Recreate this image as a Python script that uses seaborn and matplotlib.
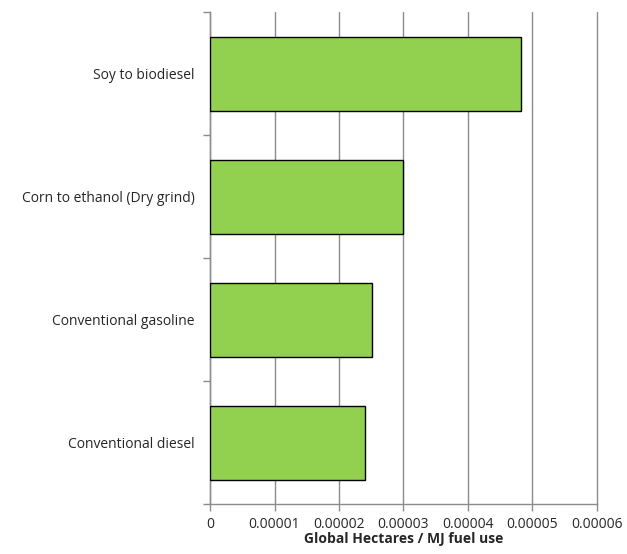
import numpy as np
import pandas as pd
import matplotlib
matplotlib.use('Agg')
import matplotlib.pyplot as plt
from matplotlib.ticker import FixedLocator, FuncFormatter
import seaborn as sns

# Land use per MJ of fuel
categories = ['Soy to biodiesel', 'Corn to ethanol (Dry grind)',
              'Conventional gasoline', 'Conventional diesel']
hectares = [0.0000483, 0.0000300, 0.0000251, 0.0000240]
x_ticks = [0, 0.00001, 0.00002, 0.00003, 0.00004, 0.00005, 0.00006]

df = pd.DataFrame({'fuel': categories, 'gha': hectares})

sns.set_style('white')
plt.rcParams['font.family'] = ['Open Sans', 'DejaVu Sans']

fig = plt.figure(figsize=(6.27, 5.54), dpi=100)
ax = fig.add_axes([0.335, 0.090, 0.617, 0.888])

sns.barplot(data=df, x='gha', y='fuel', color='#92D050', saturation=1,
            edgecolor='black', linewidth=1, width=0.6, ax=ax, zorder=3)

ax.set_xlim(0, 0.00006)
ax.set_ylim(3.5, -0.5)
ax.xaxis.set_major_locator(FixedLocator(x_ticks))
ax.xaxis.set_major_formatter(FuncFormatter(lambda v, p: '0' if v == 0 else f'{v:.5f}'))
ax.grid(axis='x', color='#8c8c8c', linewidth=1, zorder=0)
ax.grid(axis='y', visible=False)
for gl in ax.get_xgridlines():
    gl.set_clip_on(False)

# ticks on category boundaries
ax.yaxis.set_minor_locator(FixedLocator(np.arange(-0.5, 4, 1)))
ax.tick_params(axis='y', which='major', length=0, pad=11, labelsize=10)
ax.tick_params(axis='y', which='minor', length=5, color='#8c8c8c', width=1, left=True)
ax.tick_params(axis='x', which='major', length=5, color='#8c8c8c', width=1,
               bottom=True, labelsize=10, pad=4)

for s in ['top', 'right']:
    ax.spines[s].set_visible(False)
for s in ['left', 'bottom']:
    ax.spines[s].set_color('#8c8c8c')
    ax.spines[s].set_linewidth(1)

ax.set_ylabel('')
ax.set_xlabel('Global Hectares / MJ fuel use', fontweight='bold', fontsize=10, labelpad=0)

fig.savefig('out.png', dpi=100)
